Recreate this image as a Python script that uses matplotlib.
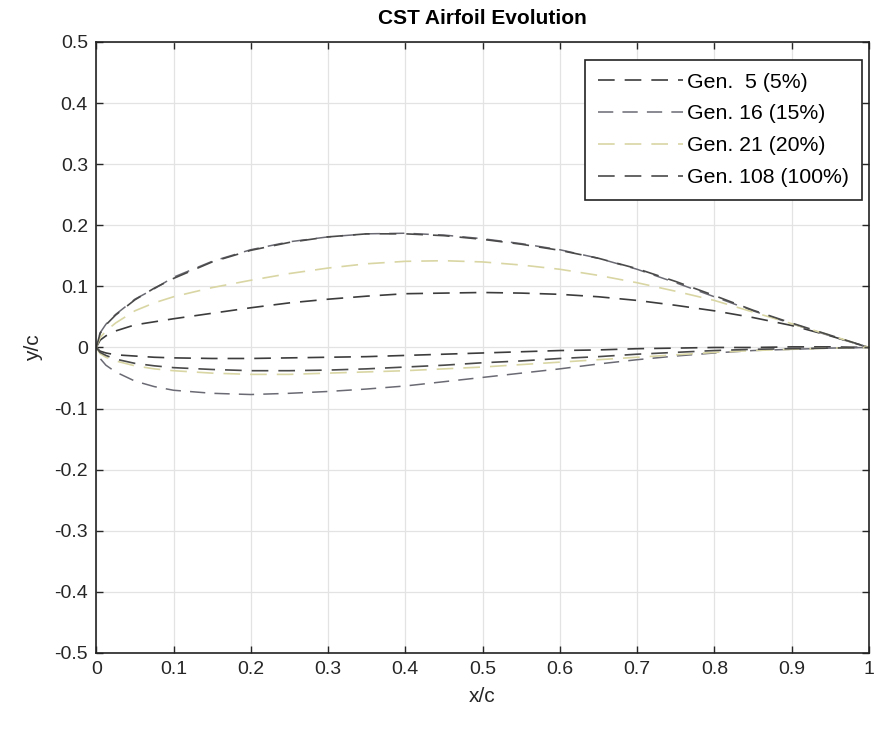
import numpy as np
import matplotlib.pyplot as plt

plt.rcParams['font.family'] = ['Liberation Sans', 'DejaVu Sans']

# chordwise stations
x_c = [0.0, 0.005, 0.0125, 0.025, 0.05, 0.075, 0.1, 0.15, 0.2, 0.25, 0.3, 0.35, 0.4,
       0.45, 0.5, 0.55, 0.6, 0.65, 0.7, 0.75, 0.8, 0.85, 0.9, 0.95, 1.0]

labels = ['Gen.  5 (5%)', 'Gen. 16 (15%)', 'Gen. 21 (20%)', 'Gen. 108 (100%)']

upper_g5 = [0.0, 0.012, 0.019, 0.027, 0.037, 0.042, 0.047, 0.056, 0.065, 0.073, 0.079, 0.084,
            0.088, 0.089, 0.090, 0.089, 0.087, 0.083, 0.077, 0.069, 0.060, 0.049, 0.036, 0.019, 0.0]
lower_g5 = [0.0, -0.006, -0.009, -0.012, -0.014, -0.016, -0.017, -0.018, -0.018, -0.017, -0.016, -0.015,
            -0.013, -0.011, -0.009, -0.007, -0.005, -0.004, -0.002, -0.001, 0.0, 0.0, 0.001, 0.001, 0.0]

upper_g16 = [0.0, 0.024, 0.038, 0.054, 0.079, 0.096, 0.115, 0.141, 0.160, 0.173, 0.181, 0.186,
             0.187, 0.184, 0.178, 0.170, 0.160, 0.146, 0.128, 0.106, 0.083, 0.060, 0.039, 0.019, 0.0]
lower_g16 = [0.0, -0.018, -0.029, -0.040, -0.055, -0.064, -0.070, -0.075, -0.077, -0.075, -0.072, -0.068,
             -0.063, -0.056, -0.049, -0.042, -0.035, -0.027, -0.020, -0.014, -0.009, -0.005, -0.003, -0.001, 0.0]

upper_g21 = [0.0, 0.016, 0.027, 0.040, 0.060, 0.073, 0.083, 0.098, 0.110, 0.121, 0.130, 0.137,
             0.141, 0.142, 0.140, 0.135, 0.128, 0.118, 0.106, 0.092, 0.077, 0.058, 0.039, 0.020, 0.0]
lower_g21 = [0.0, -0.010, -0.016, -0.022, -0.030, -0.035, -0.038, -0.042, -0.044, -0.044, -0.042, -0.040,
             -0.038, -0.035, -0.032, -0.028, -0.024, -0.020, -0.016, -0.012, -0.008, -0.005, -0.003, -0.001, 0.0]

upper_g108 = [0.0, 0.023, 0.037, 0.053, 0.078, 0.097, 0.113, 0.140, 0.159, 0.172, 0.181, 0.186,
              0.186, 0.183, 0.177, 0.169, 0.159, 0.146, 0.129, 0.108, 0.085, 0.061, 0.040, 0.020, 0.0]
lower_g108 = [0.0, -0.008, -0.013, -0.019, -0.026, -0.030, -0.033, -0.036, -0.038, -0.038, -0.037, -0.035,
              -0.032, -0.029, -0.025, -0.022, -0.018, -0.015, -0.011, -0.008, -0.005, -0.003, -0.002, -0.001, 0.0]

uppers = [upper_g5, upper_g16, upper_g21, upper_g108]
lowers = [lower_g5, lower_g16, lower_g21, lower_g108]
colors = ['#3c3c3c', '#6a6a74', '#d9d6a4', '#4a4a4a']
dash_styles = [(0, (10, 6)), (8, (10, 6)), (0, (10, 6)), (0, (10, 6))]
widths = [1.2, 1.1, 1.2, 1.2]

fig = plt.figure(figsize=(8.75, 7.3), dpi=100)
ax = fig.add_axes([0.110, 0.1055, 0.883, 0.837])

for up, lo, c, ls, lw, lab in zip(uppers, lowers, colors, dash_styles, widths, labels):
    ax.plot(x_c, up, color=c, linestyle=ls, lw=lw, label=lab)
    ax.plot(x_c, lo, color=c, linestyle=ls, lw=lw)

ax.set_xlim(0, 1)
ax.set_ylim(-0.5, 0.5)
ax.set_xticks(np.arange(0, 1.01, 0.1))
ax.set_yticks(np.arange(-0.5, 0.51, 0.1))
ax.set_xticklabels(['0', '0.1', '0.2', '0.3', '0.4', '0.5', '0.6', '0.7', '0.8', '0.9', '1'])
ax.set_yticklabels(['-0.5', '-0.4', '-0.3', '-0.2', '-0.1', '0', '0.1', '0.2', '0.3', '0.4', '0.5'])
ax.tick_params(direction='in', top=True, right=True, length=5, width=1, labelsize=14,
               colors='#262626', pad=6)
ax.grid(True, color='#e3e3e3', lw=0.9)
ax.set_axisbelow(True)
for s in ax.spines.values():
    s.set_linewidth(1.2)
    s.set_color('#222222')

ax.set_xlabel('x/c', fontsize=15, color='#262626', labelpad=6)
ax.set_ylabel('y/c', fontsize=15, color='#262626', labelpad=8)
ax.set_title('CST Airfoil Evolution', fontsize=15, fontweight='bold', pad=13)

leg = ax.legend(loc='upper right', bbox_to_anchor=(0.991, 0.9705), borderaxespad=0,
                fontsize=15.3, handlelength=4.0, labelspacing=0.6, fancybox=False,
                edgecolor='#222222', framealpha=1, borderpad=0.6, handletextpad=0.2)
leg.get_frame().set_linewidth(1.2)
# legend handles all start on a dash
for h in leg.get_lines():
    h.set_linestyle((0, (10, 6)))

plt.savefig('out.png', dpi=100)
